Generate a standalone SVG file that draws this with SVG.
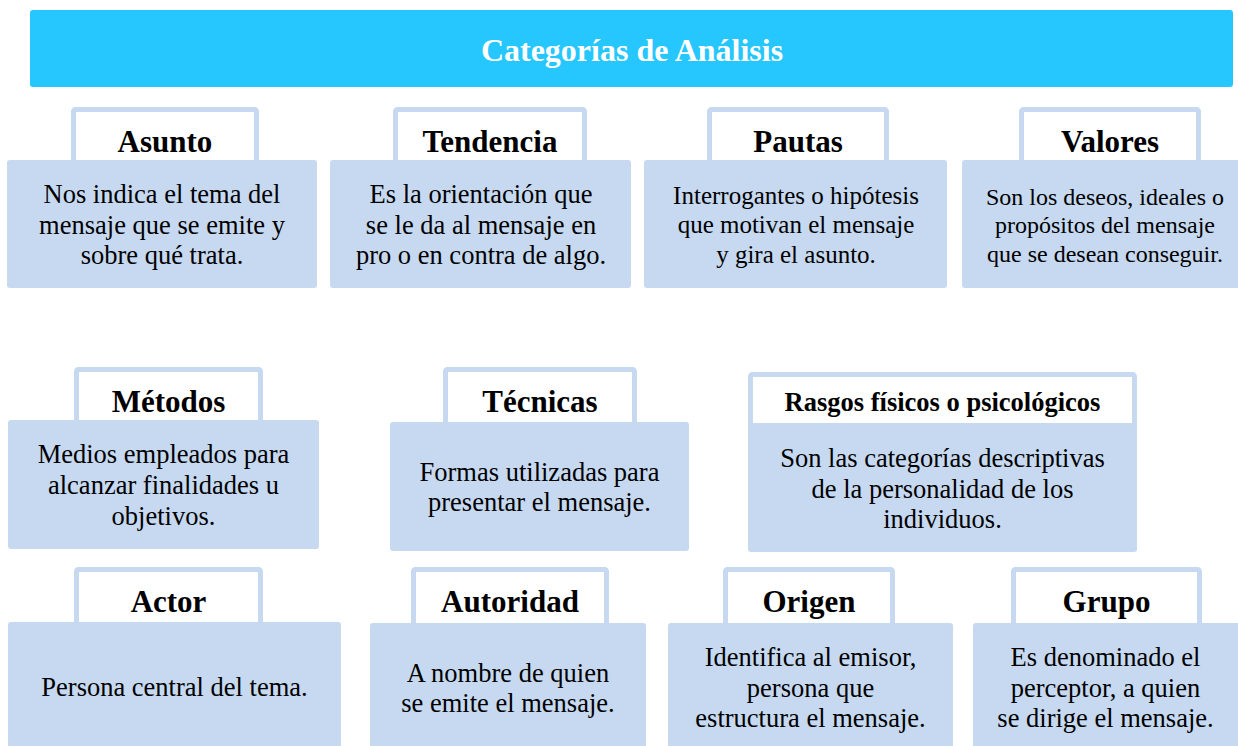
<svg xmlns="http://www.w3.org/2000/svg" width="1238" height="746" viewBox="0 0 1238 746">
  <style>
    .tab { fill: #FFFFFF; stroke: #C6D9F0; stroke-width: 5; }
    .body { fill: #C6D9F0; }
    .title { font-family: "Liberation Serif", "Times New Roman", serif; font-weight: bold; font-size: 32px; fill: #FFFFFF; text-anchor: middle; }
    .label { font-family: "Liberation Serif", "Times New Roman", serif; font-weight: bold; font-size: 31px; fill: #000000; text-anchor: middle; }
    .txt { font-family: "Liberation Serif", "Times New Roman", serif; font-size: 26.5px; fill: #000000; text-anchor: middle; }
  </style>
  <rect x="0" y="0" width="1238" height="746" fill="#FFFFFF"/>

  <g id="title">
    <rect x="30" y="10" width="1203" height="77" rx="3" fill="#26C6FE"/>
    <text class="title" x="632" y="61">Categorías de Análisis</text>
  </g>

  <g id="asunto">
    <rect class="tab" x="73.5" y="109.5" width="183" height="60" rx="2"/>
    <rect class="body" x="7" y="160" width="310" height="128" rx="3"/>
    <text class="label" x="165" y="152">Asunto</text>
    <text class="txt" x="162" y="203">Nos indica el tema del</text>
    <text class="txt" x="162" y="233.5">mensaje que se emite y</text>
    <text class="txt" x="162" y="264">sobre qué trata.</text>
  </g>

  <g id="tendencia">
    <rect class="tab" x="395.5" y="109.5" width="189" height="60" rx="2"/>
    <rect class="body" x="330" y="160" width="301" height="128" rx="3"/>
    <text class="label" x="490" y="152">Tendencia</text>
    <text class="txt" x="481" y="203">Es la orientación que</text>
    <text class="txt" x="481" y="233.5">se le da al mensaje en</text>
    <text class="txt" x="481" y="264">pro o en contra de algo.</text>
  </g>

  <g id="pautas">
    <rect class="tab" x="709.5" y="109.5" width="177" height="60" rx="2"/>
    <rect class="body" x="644" y="160" width="303" height="128" rx="3"/>
    <text class="label" x="798" y="152">Pautas</text>
    <text class="txt" x="796" y="203.5" style="font-size:25px">Interrogantes o hipótesis</text>
    <text class="txt" x="796" y="233" style="font-size:25px">que motivan el mensaje</text>
    <text class="txt" x="796" y="262.5" style="font-size:25px">y gira el asunto.</text>
  </g>

  <g id="valores">
    <rect class="tab" x="1021.5" y="109.5" width="177" height="60" rx="2"/>
    <rect class="body" x="962" y="160" width="284" height="128" rx="3"/>
    <text class="label" x="1110" y="152">Valores</text>
    <text class="txt" x="1105" y="204.5" style="font-size:24px">Son los deseos, ideales o</text>
    <text class="txt" x="1105" y="233" style="font-size:24px">propósitos del mensaje</text>
    <text class="txt" x="1105" y="261.5" style="font-size:24px">que se desean conseguir.</text>
  </g>

  <g id="metodos">
    <rect class="tab" x="76.5" y="369.5" width="184" height="60" rx="2"/>
    <rect class="body" x="8" y="420" width="311" height="129" rx="3"/>
    <text class="label" x="168.5" y="412">Métodos</text>
    <text class="txt" x="163.5" y="463">Medios empleados para</text>
    <text class="txt" x="163.5" y="494">alcanzar finalidades u</text>
    <text class="txt" x="163.5" y="525">objetivos.</text>
  </g>

  <g id="tecnicas">
    <rect class="tab" x="445.5" y="369.5" width="189" height="62" rx="2"/>
    <rect class="body" x="390" y="422" width="299" height="129" rx="3"/>
    <text class="label" x="540" y="412">Técnicas</text>
    <text class="txt" x="539.5" y="481">Formas utilizadas para</text>
    <text class="txt" x="539.5" y="511">presentar el mensaje.</text>
  </g>

  <g id="rasgos">
    <rect class="tab" x="750.5" y="374.5" width="384" height="58" rx="2"/>
    <rect class="body" x="748" y="423" width="389" height="129" rx="3"/>
    <text class="label" x="942.5" y="411" style="font-size:26.5px">Rasgos físicos o psicológicos</text>
    <text class="txt" x="942.5" y="466.5">Son las categorías descriptivas</text>
    <text class="txt" x="942.5" y="497.5">de la personalidad de los</text>
    <text class="txt" x="942.5" y="528">individuos.</text>
  </g>

  <g id="actor">
    <rect class="tab" x="76.5" y="569.5" width="184" height="62" rx="2"/>
    <rect class="body" x="8" y="622" width="333" height="132" rx="3"/>
    <text class="label" x="168.5" y="612">Actor</text>
    <text class="txt" x="174.5" y="696">Persona central del tema.</text>
  </g>

  <g id="autoridad">
    <rect class="tab" x="413.5" y="569.5" width="193" height="62" rx="2"/>
    <rect class="body" x="370" y="623" width="276" height="132" rx="3"/>
    <text class="label" x="510" y="612">Autoridad</text>
    <text class="txt" x="508" y="681.5">A nombre de quien</text>
    <text class="txt" x="508" y="711.5">se emite el mensaje.</text>
  </g>

  <g id="origen">
    <rect class="tab" x="725.5" y="569.5" width="167" height="62" rx="2"/>
    <rect class="body" x="668" y="623" width="285" height="132" rx="3"/>
    <text class="label" x="809" y="612">Origen</text>
    <text class="txt" x="810.5" y="666">Identifica al emisor,</text>
    <text class="txt" x="810.5" y="696.5">persona que</text>
    <text class="txt" x="810.5" y="727">estructura el mensaje.</text>
  </g>

  <g id="grupo">
    <rect class="tab" x="1013.5" y="569.5" width="186" height="62" rx="2"/>
    <rect class="body" x="973" y="623" width="273" height="132" rx="3"/>
    <text class="label" x="1106.5" y="612">Grupo</text>
    <text class="txt" x="1105.5" y="666">Es denominado el</text>
    <text class="txt" x="1105.5" y="696.5">perceptor, a quien</text>
    <text class="txt" x="1105.5" y="727">se dirige el mensaje.</text>
  </g>

  <g id="connectors"></g>
</svg>
